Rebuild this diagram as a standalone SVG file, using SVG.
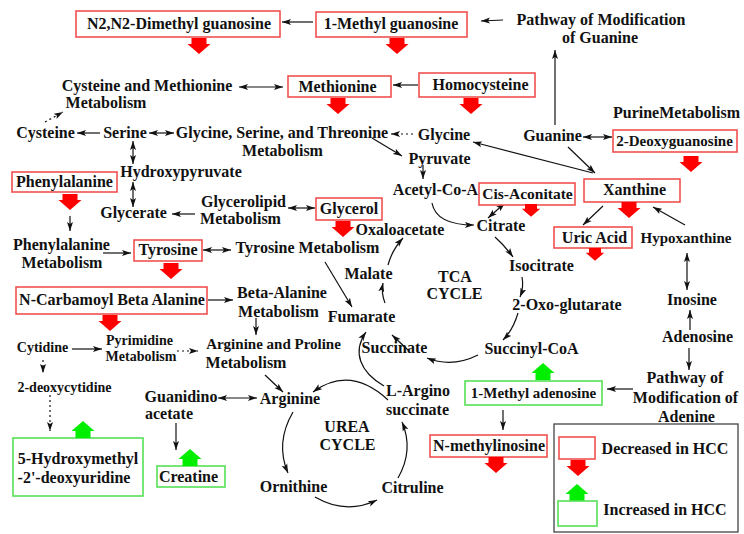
<svg xmlns="http://www.w3.org/2000/svg" width="744" height="534" viewBox="0 0 744 534">
<style>
.t{font-family:"Liberation Serif","Times New Roman",serif;font-weight:bold;font-size:16px;fill:#111;text-anchor:middle}
.s{font-size:14px}
.m{font-size:15px}
.rb{fill:#fff;stroke:#f05050;stroke-width:1.6}
.gb{fill:#fff;stroke:#55e055;stroke-width:1.6}
.c{fill:none;stroke:#111;stroke-width:1.2;marker-end:url(#ah)}
.b{marker-start:url(#ah)}
.d{stroke-dasharray:2 3}
.ra{fill:#ff0000}
.ga{fill:#00ee00}
</style>
<defs>
<marker id="ah" markerUnits="userSpaceOnUse" markerWidth="10" markerHeight="7" refX="9" refY="3.5" orient="auto-start-reverse">
<path d="M0,0.5 L9,3.5 L0,6.5 L2,3.5 z" fill="#111"/>
</marker>
<path id="down" d="M-7.5,0 H7.5 V6 H11.5 L0,16 L-11.5,6 H-7.5 Z"/>
<path id="up" d="M-7.5,17 H7.5 V10 H11.5 L0,0 L-11.5,10 H-7.5 Z"/>
</defs>
<rect width="744" height="534" fill="#fff"/>

<g id="connectors">
<path class="c" d="M503,20 L481,21"/>
<path class="c" d="M313,22 L282,22"/>
<path class="c" d="M418,85 L393,85"/>
<path class="c b" d="M239,87 L283,87"/>
<path class="c d" d="M45,122 L63,112"/>
<path class="c" d="M100,133 L77,133"/>
<path class="c b" d="M149,133 L174,133"/>
<path class="c b" d="M133,141 L133,164"/>
<path class="c d" d="M413,134 L391,134"/>
<path class="c" d="M372,138 L402,156"/>
<path class="c" d="M423,165 L423,179"/>
<path class="c" d="M555,125 L555,50"/>
<path class="c b" d="M583,137 L612,137"/>
<path class="c" d="M593,173 L473,142"/>
<path class="c" d="M568,147 L595,173"/>
<path class="c b" d="M133,182 L133,207"/>
<path class="c" d="M195,214 L172,214"/>
<path class="c b" d="M288,208 L315,208"/>
<path class="c" d="M70,216 L70,231"/>
<path class="c" d="M103,253 L131,253"/>
<path class="c b" d="M203,250 L231,250"/>
<path class="c" d="M432,203 Q436,225 474,225"/>
<path class="c b" d="M488,218 L505,203"/>
<path class="c" d="M603,206 L583,225"/>
<path class="c" d="M685,225 L653,207"/>
<path class="c b" d="M687,253 L687,290"/>
<path class="c" d="M690,330 L690,310"/>
<path class="c" d="M689,348 L689,370"/>
<path class="c" d="M495,237 Q505,246 513,257"/>
<path class="c" d="M522,277 Q524,287 520,297"/>
<path class="c" d="M518,313 Q513,330 503,340"/>
<path class="c" d="M478,355 Q452,368 427,358"/>
<path class="c" d="M408,350 L392,335"/>
<path class="c" d="M385,303 Q381,293 383,283"/>
<path class="c" d="M388,265 Q392,250 403,238"/>
<path class="c" d="M325,262 L352,307"/>
<path class="c" d="M208,300 L233,300"/>
<path class="c" d="M256,318 L256,335"/>
<path class="c" d="M72,349 L102,349"/>
<path class="c d" d="M177,351 L198,351"/>
<path class="c d" d="M43,360 L43,373"/>
<path class="c d" d="M50,395 L50,431"/>
<path class="c" d="M265,375 L283,392"/>
<path class="c b" d="M218,398 L257,398"/>
<path class="c" d="M176,423 L176,450"/>
<path class="c" d="M384,386 C360,372 352,352 366,332"/>
<path class="c" d="M293,412 Q275,443 288,473"/>
<path class="c" d="M315,497 Q346,515 377,500"/>
<path class="c" d="M398,478 Q414,450 402,422"/>
<path class="c" d="M388,400 Q350,365 313,392"/>
<path class="c" d="M503,410 L503,430"/>
<path class="c" d="M633,389 L607,389"/>
</g>

<g id="n2n2-dimethyl-guanosine"><rect class="rb" x="76" y="11" width="204" height="26"/><text class="t" x="179" y="29">N2,N2-Dimethyl guanosine</text><use href="#down" class="ra" x="199" y="38"/></g>
<g id="1-methyl-guanosine"><rect class="rb" x="316" y="12" width="151" height="25"/><text class="t" x="391" y="29">1-Methyl guanosine</text><use href="#down" class="ra" x="397" y="38"/></g>
<g id="pathway-guanine"><text class="t" x="601" y="25">Pathway of Modification</text><text class="t" x="600" y="43">of Guanine</text></g>
<g id="cys-met-metabolism"><text class="t" x="147" y="91">Cysteine and Methionine</text><text class="t" x="106" y="108">Metabolism</text></g>
<g id="methionine"><rect class="rb" x="288" y="76" width="103" height="21"/><text class="t" x="337.5" y="92">Methionine</text><use href="#down" class="ra" x="338" y="98"/></g>
<g id="homocysteine"><rect class="rb" x="419" y="73" width="116" height="24"/><text class="t" x="480.5" y="90">Homocysteine</text><use href="#down" class="ra" x="471" y="98"/></g>
<g id="purine-metabolism"><text class="t" x="676.5" y="118">PurineMetabolism</text></g>
<g id="cysteine"><text class="t" x="45.5" y="138">Cysteine</text></g>
<g id="serine"><text class="t" x="125" y="138">Serine</text></g>
<g id="gly-ser-thr-metabolism"><text class="t" x="282" y="138">Glycine, Serine, and Threonine</text><text class="t" x="282.5" y="156">Metabolism</text></g>
<g id="glycine"><text class="t" x="444" y="140">Glycine</text></g>
<g id="guanine"><text class="t" x="552.5" y="141">Guanine</text></g>
<g id="2-deoxyguanosine"><rect class="rb" x="613" y="130" width="124" height="22"/><text class="t m" x="674.5" y="146">2-Deoxyguanosine</text><use href="#down" class="ra" x="691" y="156"/></g>
<g id="pyruvate"><text class="t" x="439.5" y="164">Pyruvate</text></g>
<g id="hydroxypyruvate"><text class="t" x="181" y="177">Hydroxypyruvate</text></g>
<g id="phenylalanine"><rect class="rb" x="12" y="172" width="105" height="20"/><text class="t" x="64.5" y="187">Phenylalanine</text><use href="#down" class="ra" x="70" y="194"/></g>
<g id="glycerate"><text class="t" x="133.5" y="218">Glycerate</text></g>
<g id="glycerolipid-metabolism"><text class="t" x="243.5" y="207">Glycerolipid</text><text class="t" x="240.5" y="224">Metabolism</text></g>
<g id="glycerol"><rect class="rb" x="316" y="198" width="66" height="22"/><text class="t" x="349" y="214">Glycerol</text><use href="#down" class="ra" x="343" y="221"/></g>
<g id="acetyl-coa"><text class="t" x="435.5" y="195">Acetyl-Co-A</text></g>
<g id="cis-aconitate"><rect class="rb" x="479" y="183" width="96" height="22"/><text class="t" x="527.5" y="199" style="font-size:15.5px">Cis-Aconitate</text><use href="#down" class="ra" x="531" y="204" transform="translate(531,204) scale(0.8) translate(-531,-204)"/></g>
<g id="xanthine"><rect class="rb" x="584" y="179" width="96" height="23"/><text class="t" x="634.5" y="195">Xanthine</text><use href="#down" class="ra" x="629" y="202"/></g>
<g id="citrate"><text class="t" x="501" y="231">Citrate</text></g>
<g id="oxaloacetate"><text class="t" x="400" y="235">Oxaloacetate</text></g>
<g id="uric-acid"><rect class="rb" x="554" y="227" width="78" height="21"/><text class="t" x="594.5" y="243">Uric Acid</text><use href="#down" class="ra" x="595" y="248" transform="translate(595,248) scale(0.8) translate(-595,-248)"/></g>
<g id="hypoxanthine"><text class="t m" x="686" y="243">Hypoxanthine</text></g>
<g id="phenylalanine-metabolism"><text class="t" x="61.5" y="250">Phenylalanine</text><text class="t" x="62" y="268">Metabolism</text></g>
<g id="tyrosine"><rect class="rb" x="134" y="240" width="68" height="21"/><text class="t" x="168" y="255">Tyrosine</text><use href="#down" class="ra" x="171" y="263"/></g>
<g id="tyrosine-metabolism"><text class="t" x="307.5" y="253">Tyrosine Metabolism</text></g>
<g id="isocitrate"><text class="t" x="541.5" y="271">Isocitrate</text></g>
<g id="malate"><text class="t" x="368.5" y="279">Malate</text></g>
<g id="tca-cycle"><text class="t" x="455" y="282">TCA</text><text class="t" x="454.5" y="299">CYCLE</text></g>
<g id="beta-alanine-metabolism"><text class="t" x="282" y="298">Beta-Alanine</text><text class="t" x="278.5" y="317">Metabolism</text></g>
<g id="n-carbamoyl-beta-alanine"><rect class="rb" x="16" y="287" width="191" height="27"/><text class="t" x="112" y="305">N-Carbamoyl Beta Alanine</text><use href="#down" class="ra" x="110" y="315"/></g>
<g id="inosine"><text class="t" x="692" y="305">Inosine</text></g>
<g id="2-oxo-glutarate"><text class="t" x="567" y="310">2-Oxo-glutarate</text></g>
<g id="fumarate"><text class="t" x="361.5" y="322">Fumarate</text></g>
<g id="adenosine"><text class="t" x="697.5" y="342">Adenosine</text></g>
<g id="pyrimidine-metabolism"><text class="t s" x="139.5" y="345">Pyrimidine</text><text class="t s" x="141" y="361">Metabolism</text></g>
<g id="cytidine"><text class="t s" x="42.5" y="352">Cytidine</text></g>
<g id="arg-pro-metabolism"><text class="t m" x="273.5" y="349">Arginine and Proline</text><text class="t" x="246" y="368">Metabolism</text></g>
<g id="succinate"><text class="t" x="394.5" y="353">Succinate</text></g>
<g id="succinyl-coa"><text class="t" x="531.5" y="354">Succinyl-CoA</text></g>
<g id="pathway-adenine"><text class="t" x="685" y="383">Pathway of</text><text class="t" x="685.5" y="403">Modification of</text><text class="t" x="686.5" y="422">Adenine</text></g>
<g id="2-deoxycytidine"><text class="t s" x="64.5" y="392">2-deoxycytidine</text></g>
<g id="l-argino-succinate"><text class="t" x="418" y="396">L-Argino</text><text class="t" x="417.5" y="415">succinate</text></g>
<g id="1-methyl-adenosine"><rect class="gb" x="465" y="381" width="137" height="24"/><text class="t m" x="533.5" y="398">1-Methyl adenosine</text><use href="#up" class="ga" x="543" y="363"/></g>
<g id="guanidinoacetate"><text class="t" x="181" y="402">Guanidino</text><text class="t" x="169" y="419">acetate</text></g>
<g id="arginine"><text class="t" x="290" y="404">Arginine</text></g>
<g id="urea-cycle"><text class="t" x="347" y="432">UREA</text><text class="t" x="347.5" y="450">CYCLE</text></g>
<g id="n-methylinosine"><rect class="rb" x="430" y="435" width="117" height="22"/><text class="t" x="489" y="451">N-methylinosine</text><use href="#down" class="ra" x="496" y="457"/></g>
<g id="5-hydroxymethyl-2-deoxyuridine"><rect class="gb" x="13" y="438" width="130" height="58"/><text class="t" x="78" y="464">5-Hydroxymethyl</text><text class="t" x="74" y="483">-2'-deoxyuridine</text><use href="#up" class="ga" x="83" y="421"/></g>
<g id="creatine"><rect class="gb" x="157" y="466" width="68" height="21"/><text class="t" x="188.5" y="482">Creatine</text><use href="#up" class="ga" x="190" y="449"/></g>
<g id="ornithine"><text class="t" x="293.5" y="492">Ornithine</text></g>
<g id="citruline"><text class="t" x="412.5" y="493">Citruline</text></g>
<g id="legend">
<rect x="554" y="424" width="184" height="108" fill="none" stroke="#444" stroke-width="1.3"/>
<rect class="rb" x="559" y="437" width="36" height="22"/>
<use href="#down" class="ra" x="578" y="460"/>
<text class="t" x="665" y="454">Decreased in HCC</text>
<use href="#up" class="ga" x="577" y="484"/>
<rect class="gb" x="558" y="501" width="39" height="25"/>
<text class="t" x="665" y="515">Increased in HCC</text>
</g>
</svg>
